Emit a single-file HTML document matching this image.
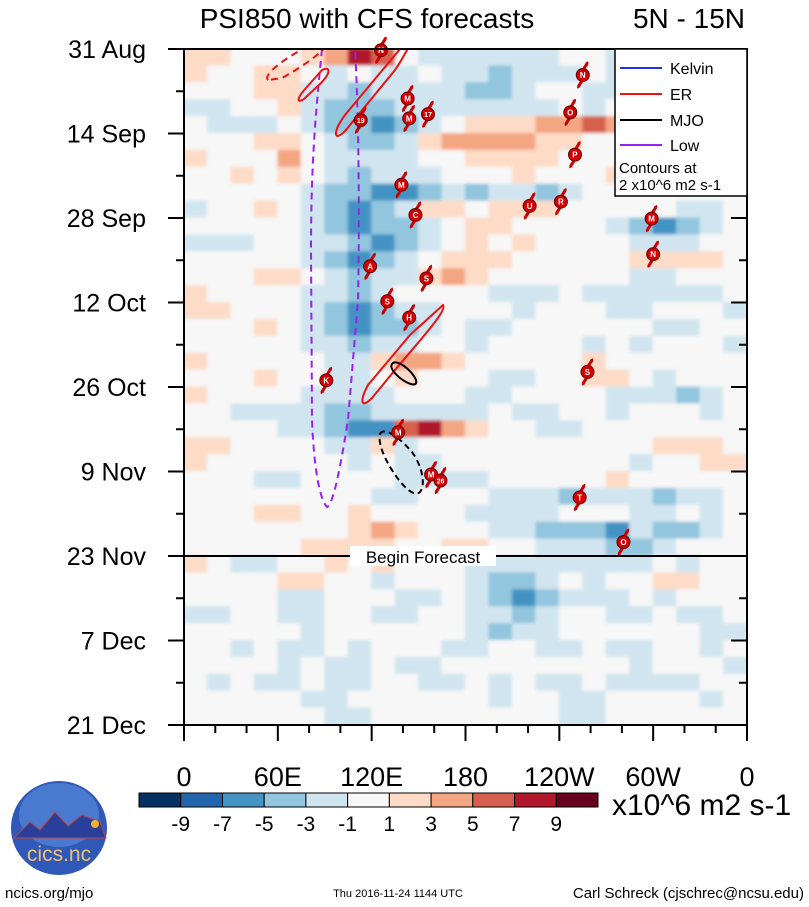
<!DOCTYPE html>
<html><head><meta charset="utf-8"><style>
body{margin:0;background:#fff;width:809px;height:907px;overflow:hidden;font-family:"Liberation Sans",sans-serif}
svg{display:block}
text{font-family:"Liberation Sans",sans-serif}
</style></head><body>
<svg id="chart" width="809" height="907" viewBox="0 0 809 907">
<defs>
<filter id="soft" x="0" y="0" width="1" height="1"><feGaussianBlur stdDeviation="1.5"/></filter>
<clipPath id="plotclip"><rect x="184" y="49" width="563" height="676"/></clipPath>
</defs>
<rect x="184" y="49" width="563" height="676" fill="#f7f7f7"/>
<g id="field" clip-path="url(#plotclip)"><g id="cells" filter="url(#soft)"></g></g>
<g id="overlays" clip-path="url(#plotclip)"></g>
<g id="storms"></g>
<g id="axes"></g>
<text x="367" y="28" font-size="28" text-anchor="middle">PSI850 with CFS forecasts</text>
<text x="745" y="28" font-size="28" text-anchor="end">5N - 15N</text>
<g>
<rect x="615" y="49" width="132" height="147" fill="#fff" stroke="#000" stroke-width="1.5"/>
<line x1="620" y1="68" x2="662" y2="68" stroke="#2233dd" stroke-width="2"/>
<text x="670" y="74" font-size="16">Kelvin</text>
<line x1="620" y1="94" x2="662" y2="94" stroke="#ee1111" stroke-width="2"/>
<text x="670" y="100" font-size="16">ER</text>
<line x1="620" y1="120" x2="662" y2="120" stroke="#000" stroke-width="2"/>
<text x="670" y="126" font-size="16">MJO</text>
<line x1="620" y1="145" x2="662" y2="145" stroke="#9922ee" stroke-width="2"/>
<text x="670" y="151" font-size="16">Low</text>
<text x="619" y="173" font-size="15">Contours at</text>
<text x="619" y="190" font-size="15">2 x10^6 m2 s-1</text>
</g>
<g>
<line x1="184" y1="556" x2="747" y2="556" stroke="#000" stroke-width="2"/>
<rect x="350" y="546" width="146" height="20" fill="#fff"/>
<text x="423" y="563" font-size="17" text-anchor="middle">Begin Forecast</text>
</g>
<g id="colorbar"></g>
<text x="612" y="815" font-size="30">x10^6 m2 s-1</text>
<g>
<ellipse cx="59" cy="828" rx="48" ry="47" fill="#2f58b8"/>
<ellipse cx="59" cy="815" rx="40" ry="32" fill="#4a79d0"/>
<path d="M14 838 L30 822 L40 830 L55 812 L68 826 L82 815 L100 822 L106 838 Z" fill="#2a3f9a" stroke="#c24040" stroke-width="1"/>
<circle cx="95" cy="824" r="4" fill="#f5b030"/>
<text x="59" y="861" font-size="21" fill="#f0c070" text-anchor="middle">cics.nc</text>
</g>
<text x="5" y="898" font-size="15">ncics.org/mjo</text>
<text x="398" y="897" font-size="11" text-anchor="middle">Thu 2016-11-24 1144 UTC</text>
<text x="804" y="898" font-size="15" text-anchor="end">Carl Schreck (cjschrec@ncsu.edu)</text>
</svg>
<script>
const lonTicks=[0,60,120,180,240,300,360];
const lonLabels=["0","60E","120E","180","120W","60W","0"];
const dateLabels=["31 Aug","14 Sep","28 Sep","12 Oct","26 Oct","9 Nov","23 Nov","7 Dec","21 Dec"];
const dateDays=[0,14,28,42,56,70,84,98,112];
const levels=[-9,-7,-5,-3,-1,1,3,5,7,9];
const levelColors=["#053061","#2166ac","#4393c3","#92c5de","#d1e5f0","#f7f7f7","#fddbc7","#f4a582","#d6604d","#b2182b","#67001f"];
const fieldLonStep=15;
const fieldDayStep=2.8;
const fieldRows=[
[2,2,0,0,0,2,4,8,6,0,-2,-2,-2,-2,-2,-2,0,0,-2,-2,0,0,0,0],
[2,0,0,2,2,0,-2,0,-2,-2,0,-2,-2,-4,-2,-2,-2,0,-2,0,0,0,-2,-2],
[0,0,0,2,2,-2,-2,-4,-2,-2,-2,-2,-4,-4,-2,0,0,-2,-2,0,0,0,0,0],
[-2,-2,0,0,2,-2,-4,-4,-4,-2,-2,-2,-2,-2,-2,-2,0,-2,0,0,-2,0,0,0],
[0,-2,-2,-2,0,-2,-4,-4,-6,-4,-2,0,2,2,2,4,4,6,4,2,0,0,0,0],
[0,0,0,2,2,0,-2,-4,-4,-2,2,4,4,4,4,2,2,0,0,0,2,2,2,0],
[2,0,0,0,4,0,-2,-2,-2,-2,0,0,2,2,2,2,0,0,0,0,0,2,0,0],
[0,0,2,0,2,0,-2,-4,-2,-2,-2,0,0,0,2,0,0,0,2,2,0,0,0,0],
[0,0,0,0,0,-2,-4,-4,-6,-6,-4,-2,-4,-2,-2,-4,-2,0,0,0,0,0,0,0],
[-2,0,0,2,0,-2,-4,-6,-4,-2,2,2,0,2,2,2,0,0,0,0,0,-2,-2,0],
[0,0,0,0,0,-2,-4,-6,-4,-4,-2,0,2,2,0,0,0,0,-2,-4,-6,-4,-2,0],
[-2,-2,-2,0,0,-2,-2,-4,-6,-4,-2,0,2,0,2,0,0,0,0,-2,-2,-2,0,0],
[0,0,0,0,0,-2,-4,-6,-4,-2,0,2,2,2,0,0,0,0,0,2,2,2,2,0],
[0,0,0,2,2,0,-2,-4,-2,-2,2,4,2,0,0,0,0,0,0,-2,-2,0,0,0],
[2,0,0,0,0,-2,-2,-4,-2,0,0,0,0,-2,-2,-2,0,-2,-2,-2,-2,-2,-2,0],
[2,2,0,0,0,-2,-4,-6,-4,-2,-2,0,0,0,-2,0,0,0,-2,-2,0,0,0,-2],
[0,0,0,2,0,-2,-4,-6,-4,-4,-2,0,-2,-2,0,0,0,0,0,0,-2,-2,0,0],
[0,0,0,0,0,-2,-2,-4,-2,-2,0,0,-2,0,0,0,0,-2,0,-2,0,0,0,-2],
[2,0,0,0,0,0,-2,-2,2,4,4,2,0,0,0,0,0,2,0,0,0,0,0,0],
[0,0,0,2,0,0,-2,-2,0,2,0,0,0,-2,-2,0,0,2,2,0,-2,0,0,0],
[2,0,0,0,0,-2,-2,-2,-2,0,0,0,-2,-2,0,0,0,0,-2,-2,-2,-4,-2,0],
[0,0,-2,-2,-2,-2,-4,-4,-2,-2,-2,-2,-2,0,-2,-2,0,0,-2,0,0,0,-2,0],
[0,0,0,0,-2,-2,-4,-6,-6,6,8,4,2,0,0,-2,-2,0,0,0,0,0,0,0],
[2,2,0,0,0,0,-2,-2,2,-2,0,0,0,0,0,0,0,0,0,0,2,2,2,0],
[2,0,0,0,0,0,0,-2,0,-2,-2,0,0,0,0,0,0,0,0,-2,0,0,2,2],
[0,0,0,-2,-2,0,0,0,0,-2,-2,-2,-2,0,0,0,0,0,2,0,0,0,0,0],
[0,0,0,0,0,0,0,0,-2,-2,0,0,0,-2,-2,-2,-4,-2,-2,-2,-4,-2,-2,0],
[0,0,0,2,2,0,0,2,0,0,0,0,-2,-2,-2,-2,0,0,0,-2,-2,0,-2,0],
[0,0,0,0,0,0,0,2,4,2,0,0,0,-2,-2,-4,-4,-4,-6,-2,-4,-4,-2,0],
[0,0,0,0,0,2,2,2,2,0,0,2,2,0,0,-2,-2,-2,-4,-4,-2,0,0,0],
[2,0,-2,-2,0,0,2,0,2,0,0,0,-2,-2,-2,-2,-2,-2,-2,-2,0,-2,0,0],
[0,0,0,0,2,2,0,0,-2,0,0,0,-2,-4,-4,-2,0,-2,0,0,2,2,0,0],
[0,0,0,0,-2,-2,0,0,0,-2,-2,0,-2,-4,-6,-4,-2,-2,-2,0,-2,0,0,0],
[-2,-2,0,0,-2,-2,0,0,-2,-2,0,0,-2,-2,-4,-2,0,0,-2,-2,0,-2,-2,0],
[0,0,0,0,0,-2,0,0,0,0,0,0,-2,-4,-2,-2,0,0,0,0,0,0,-2,-2],
[0,0,-2,0,-2,-2,0,-2,0,0,0,-2,-2,0,0,-2,-2,0,-2,-2,0,0,-2,0],
[0,0,0,0,-2,0,-2,-2,0,-2,-2,0,0,0,0,0,0,0,0,-2,0,0,0,-2],
[0,-2,0,-2,-2,0,-2,-2,0,0,-2,-2,0,-2,0,-2,-2,0,-2,-2,-2,-2,0,0],
[0,0,0,0,0,-2,-2,0,0,0,0,0,0,-2,0,0,-2,-2,0,0,0,0,-2,0],
[0,0,0,0,0,0,-2,-2,0,0,0,0,0,0,0,0,-2,-2,0,0,0,0,0,0]
];
const stormLabels=["N","N","M","M","17","19","O","P","M","C","U","R","M","N","A","S","S","H","S","K","M","M","26","T","O"];
const stormLons=[126,255,143,144,156,113,247,250,139,148,221,241,299,300,119,155,130,144,258,91,137,158,164,253,281];
const stormDays=[0.2,4.3,8.2,11.5,10.8,11.8,10.5,17.5,22.5,27.5,26,25.3,28.1,34,36,38,41.8,44.5,53.5,54.9,63.5,70.5,71.5,74.3,81.7];

const NS="http://www.w3.org/2000/svg";
const X0=184,X1=747,Y0=49,Y1=725,DAYS=112;
function xScale(lon){return X0+(X1-X0)*lon/360;}
function yScale(day){return Y0+(Y1-Y0)*day/DAYS;}
function colorFor(v){let i=0;while(i<levels.length&&v>=levels[i])i++;return levelColors[i];}
function mk(tag,attrs,parent){const e=document.createElementNS(NS,tag);for(const k in attrs)e.setAttribute(k,attrs[k]);parent.appendChild(e);return e;}

const cells=document.getElementById('cells');
fieldRows.forEach((row,r)=>{row.forEach((v,c)=>{
  const x=xScale(c*fieldLonStep),w=xScale((c+1)*fieldLonStep)-x;
  const y=yScale(r*fieldDayStep),h=yScale((r+1)*fieldDayStep)-y;
  const rc=mk('rect',{x:x-0.5,y:y-0.5,width:w+1,height:h+1,fill:colorFor(v)},cells);
  
  
});});

const ov=document.getElementById('overlays');
function path(d,stroke,dash,name){const p=mk('path',{d:d,fill:'none',stroke:stroke,'stroke-width':2},ov);if(dash)p.setAttribute('stroke-dasharray',dash);

}
path("M322 49 C316 110 311 160 311 250 L312 420 C314 470 320 500 327 507 C333 505 340 470 348 420 L358 300 C360 200 358 100 355 49","#9922ee","7 5","low-contour");
path("M400 49 C420 20 415 40 395 70 L350 125 C335 145 330 135 345 115 Z","#ee1111",null,"er-contour-1");
path("M322 70 C330 66 332 72 320 84 L304 99 C296 104 297 98 306 88 Z","#ee1111",null,"er-contour-2");
path("M268 80 C262 74 290 55 310 45 L330 40 C325 52 300 68 282 78 Z","#ee1111","7 5","er-contour-3");
path("M443 305 C448 310 420 340 395 370 L372 398 C360 410 360 400 368 385 L410 335 Z","#ee1111",null,"er-contour-4");
path("M392 364 C396 358 412 370 416 380 C418 388 408 384 400 378 C393 372 390 367 392 364 Z","#000",null,"mjo-contour");
path("M380 434 C384 426 400 438 412 452 C422 466 426 484 420 492 C414 498 402 486 392 470 C383 456 378 442 380 434 Z","#000","6 4","mjo-forecast-contour");

const st=document.getElementById('storms');
stormLabels.forEach((lab,i)=>{
  const cx=xScale(stormLons[i]),cy=yScale(stormDays[i]);
  const g=mk('g',{},st);
  
  
  mk('path',{d:`M${cx+1} ${cy-6} C${cx+3} ${cy-10} ${cx+5} ${cy-11} ${cx+4} ${cy-13} M${cx-1} ${cy+6} C${cx-3} ${cy+10} ${cx-5} ${cy+11} ${cx-4} ${cy+13}`,stroke:'#cc0000','stroke-width':3,fill:'none'},g);
  mk('circle',{cx:cx,cy:cy,r:6.5,fill:'#d40000',stroke:'#600',"stroke-width":1},g);
  const t=mk('text',{x:cx,y:cy+3,'font-size':lab.length>1?7:8,'font-weight':'bold',fill:'#fff','text-anchor':'middle'},g);
  t.textContent=lab;
});

const ax=document.getElementById('axes');
mk('rect',{x:X0,y:Y0,width:X1-X0,height:Y1-Y0,fill:'none',stroke:'#000','stroke-width':2},ax);
for(let d=0;d<=DAYS;d+=7){const y=yScale(d),maj=d%14===0;
  mk('line',{x1:X0-(maj?16:8),y1:y,x2:X0,y2:y,stroke:'#000','stroke-width':2},ax);
  mk('line',{x1:X1,y1:y,x2:X1-(maj?16:8),y2:y,stroke:'#000','stroke-width':2},ax);}
dateLabels.forEach((lab,i)=>{const t=mk('text',{x:146,y:yScale(dateDays[i])+9,'font-size':25,'text-anchor':'end'},ax);
  
  
  t.textContent=lab;});
for(let l=0;l<=360;l+=20){const x=xScale(l),maj=l%60===0;
  mk('line',{x1:x,y1:Y1,x2:x,y2:Y1+(maj?16:8),stroke:'#000','stroke-width':2},ax);}
lonLabels.forEach((lab,i)=>{const t=mk('text',{x:xScale(lonTicks[i]),y:786,'font-size':27,'text-anchor':'middle'},ax);
  
  
  t.textContent=lab;});

const cb=document.getElementById('colorbar');
const CB0=139,CBW=(598-139)/levelColors.length;
levelColors.forEach((c,i)=>{const r=mk('rect',{x:CB0+i*CBW,y:793,width:CBW,height:14,fill:c,stroke:'#000','stroke-width':1},cb);
  
  });
levels.forEach((v,i)=>{const t=mk('text',{x:CB0+(i+1)*CBW,y:831,'font-size':21,'text-anchor':'middle'},cb);
  
  
  t.textContent=String(v);});
</script>
</body></html>
